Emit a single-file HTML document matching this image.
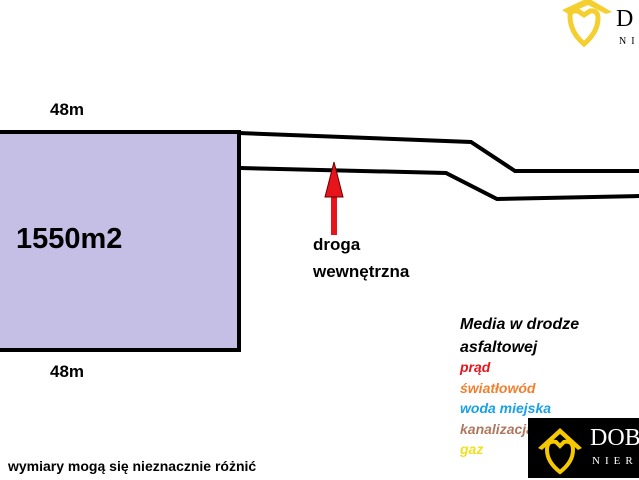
<!DOCTYPE html>
<html><head><meta charset="utf-8"><style>
body{margin:0;width:639px;height:480px;background:#fff;position:relative;overflow:hidden;font-family:"Liberation Sans","DejaVu Sans",sans-serif}
.t{position:absolute;white-space:nowrap}
</style></head><body>
<svg width="639" height="480" style="position:absolute;left:0;top:0">
<rect x="-5" y="132" width="244" height="218" fill="#c5bfe6" stroke="#000" stroke-width="4"/>
<polyline points="239,133 471,142 515,171 639,171" fill="none" stroke="#000" stroke-width="4"/>
<polyline points="240,168 446,173 497,199 639,196" fill="none" stroke="#000" stroke-width="4"/>
<rect x="331" y="195" width="6" height="40" fill="#e8141c"/>
<polygon points="334,162 325,197 343,197" fill="#e8141c" stroke="#600" stroke-width="1"/>
<g>
<path d="M562 10 L588 -2 L612 12 L606 14 L588 5 L568 14Z" fill="#f5cf30"/>
<path d="M570 16 Q570 10 578 11 L584 15 L590 11 Q598 10 598 18 Q598 32 584 44 Q570 32 570 16Z" fill="none" stroke="#f5cf30" stroke-width="5"/>
</g>
</svg>
<div class="t" style="left:50px;top:100px;font-size:17px;font-weight:bold">48m</div>
<div class="t" style="left:50px;top:362px;font-size:17px;font-weight:bold">48m</div>
<div class="t" style="left:16px;top:223px;font-size:29px;font-weight:bold">1550m2</div>
<div class="t" style="left:313px;top:231px;font-size:17px;font-weight:bold;line-height:27px">droga<br>wewnętrzna</div>
<div class="t" style="left:460px;top:313px;font-size:16px;font-weight:bold;font-style:italic;line-height:23px">Media w drodze<br>asfaltowej</div>
<div class="t" style="left:460px;top:357px;font-size:14px;font-weight:bold;font-style:italic;line-height:20.5px">
<span style="color:#e8141c">prąd</span><br><span style="color:#f08030">światłowód</span><br><span style="color:#1aa0e8">woda miejska</span><br><span style="color:#b07860">kanalizacja</span><br><span style="color:#f0e020">gaz</span></div>
<div class="t" style="left:528px;top:418px;width:111px;height:60px;background:#000"></div>
<svg width="60" height="60" style="position:absolute;left:528px;top:418px">
<path d="M10 30 L32 10 L54 30 L50 32 L32 16 L14 32Z" fill="#f5c800"/>
<path d="M19 32 Q19 22 28 24 L32 28 L36 24 Q45 22 45 32 Q45 44 32 54 Q19 44 19 32Z" fill="none" stroke="#f5c800" stroke-width="4"/>
</svg>
<div class="t" style="left:590px;top:425px;font-size:24px;color:#fff;font-family:'Liberation Serif',serif">DOB</div>
<div class="t" style="left:592px;top:455px;font-size:11px;color:#fff;letter-spacing:5px;font-family:'Liberation Serif',serif">NIER</div>
<div class="t" style="left:616px;top:6px;font-size:24px;color:#000;font-family:'Liberation Serif',serif">D</div>
<div class="t" style="left:619px;top:36px;font-size:10px;color:#000;letter-spacing:5px;font-family:'Liberation Serif',serif">NI</div>
<div class="t" style="left:8px;top:458px;font-size:14px;font-weight:bold">wymiary mogą się nieznacznie różnić</div>
</body></html>
